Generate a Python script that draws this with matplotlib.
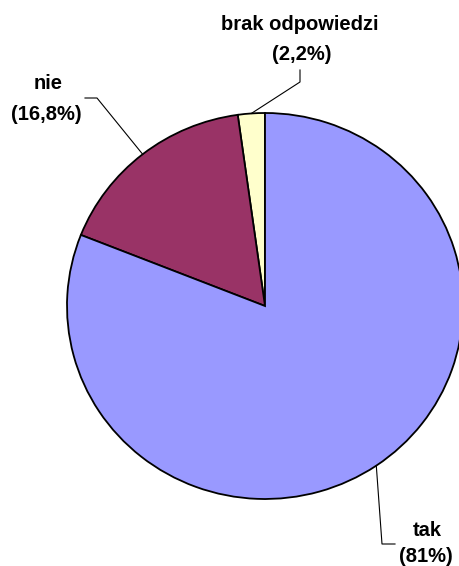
import numpy as np
import matplotlib.pyplot as plt

# data (counter-clockwise from 12 o'clock)
labels = ['brak odpowiedzi', 'nie', 'tak']
shares = [2.2, 16.8, 81.0]
share_text = ['(2,2%)', '(16,8%)', '(81%)']
colors = ['#FFFFCC', '#993366', '#9999FF']

plt.rcParams['font.family'] = ['Liberation Sans', 'DejaVu Sans']

W, H = 460, 566
cx, cy, rx, ry = 265, 306, 198, 193


def to_data(px, py):
    return (px - cx) / rx, (cy - py) / ry


fig = plt.figure(figsize=(W / 100, H / 100), dpi=100)
ax = fig.add_axes([0, 0, 1, 1])
ax.pie(shares, colors=colors, startangle=90, counterclock=True, radius=1,
       wedgeprops=dict(edgecolor='black', linewidth=1.3))
ax.set_aspect('auto')
x0, y0 = to_data(0, H)
x1, y1 = to_data(W, 0)
ax.set_xlim(x0, x1)
ax.set_ylim(y0, y1)
ax.axis('off')

# label layout: (line1 centre, line2 centre, leader elbow points in pixels)
layout = {
    'brak odpowiedzi': dict(l1=(300, 25), l2=(302, 54), path=[(300, 70), (300, 82)]),
    'nie': dict(l1=(48, 84), l2=(46, 114), path=[(85, 98), (97, 98)]),
    'tak': dict(l1=(427, 531), l2=(426, 557), path=[(395, 544), (382, 544)]),
}

fs = 14.5
cum = np.cumsum([0] + shares[:-1])
for lab, s, c0, st in zip(labels, shares, cum, share_text):
    ang = np.deg2rad(90 + (c0 + s / 2) * 3.6)
    wx, wy = np.cos(ang), np.sin(ang)
    L = layout[lab]
    ax.text(*to_data(*L['l1']), lab, ha='center', va='center',
            fontsize=fs, fontweight='bold')
    ax.text(*to_data(*L['l2']), st, ha='center', va='center',
            fontsize=fs, fontweight='bold')
    pts = [to_data(*p) for p in L['path']] + [(wx, wy)]
    ax.plot([p[0] for p in pts], [p[1] for p in pts], color='black', lw=0.8)

fig.savefig('out.png', dpi=100)
